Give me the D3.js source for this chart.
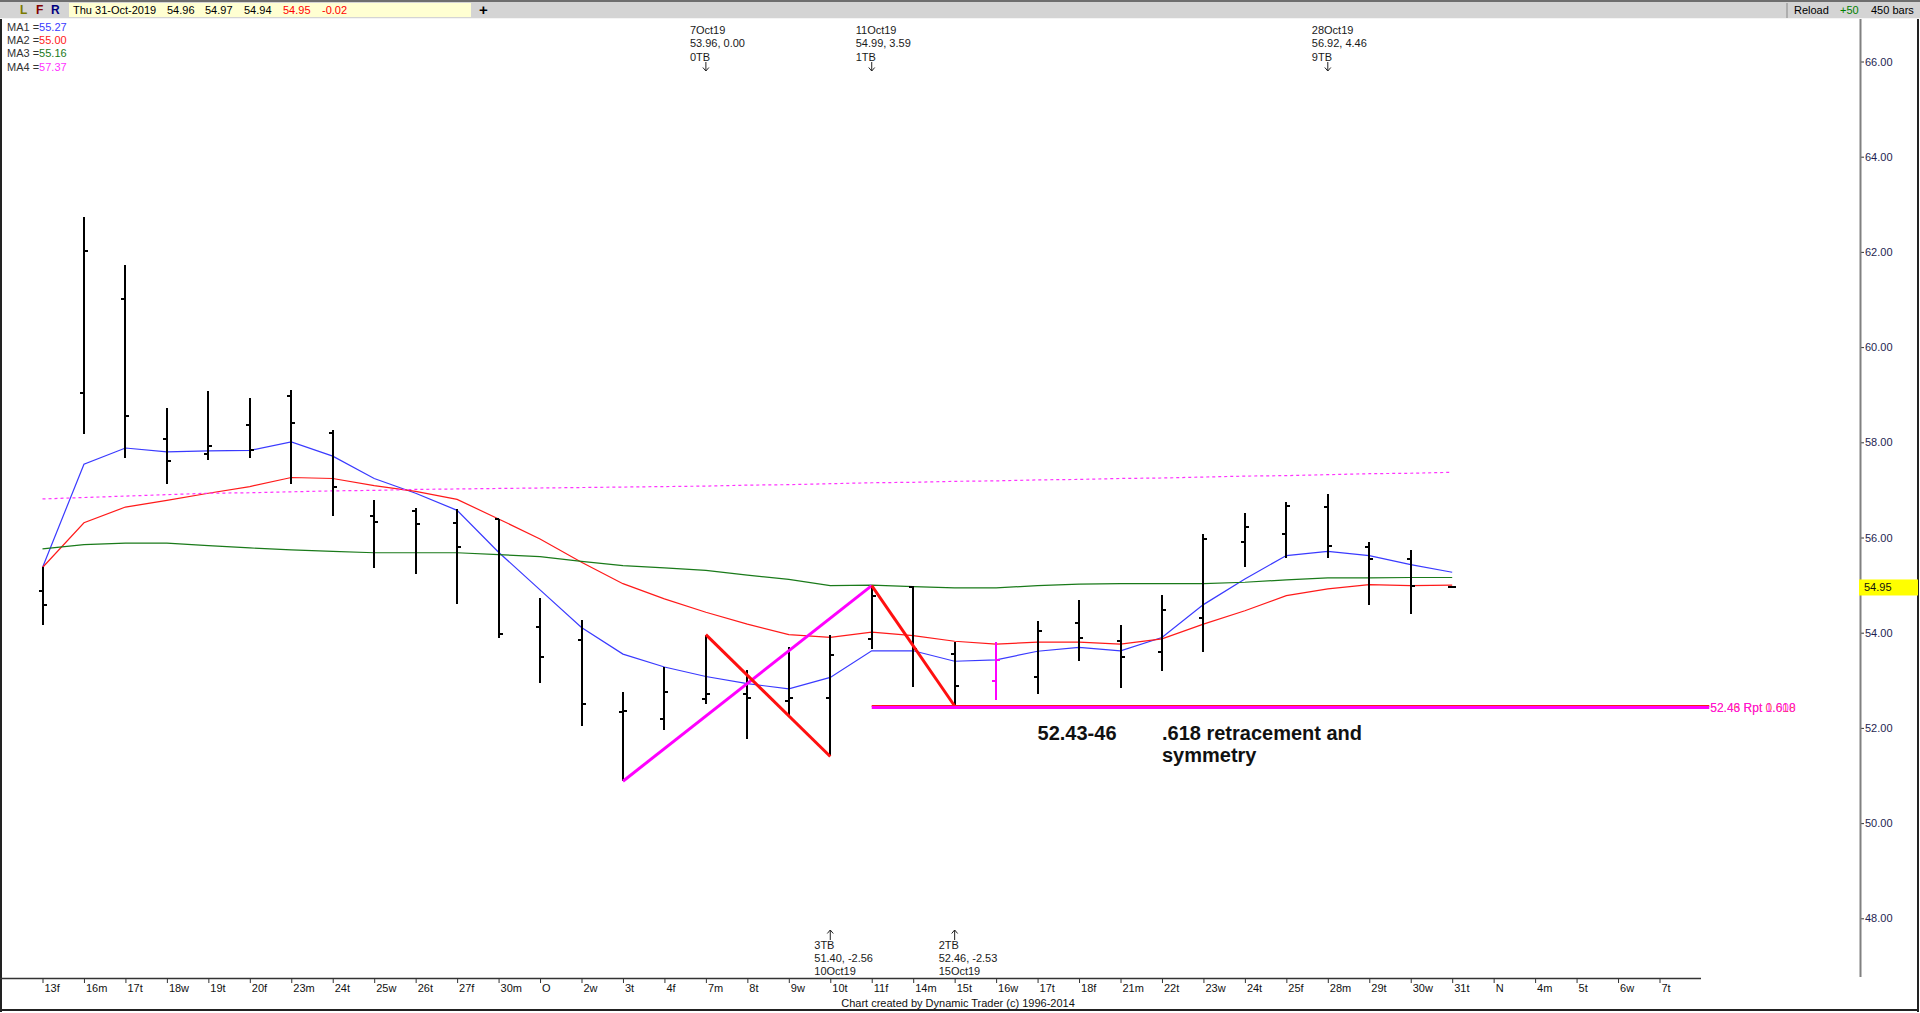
<!DOCTYPE html>
<html>
<head>
<meta charset="utf-8">
<script src="https://cdn.jsdelivr.net/npm/d3@7"></script>
<style>
  body { margin: 0; background: #fff; overflow: hidden; }
  svg { display: block; font-family: "Liberation Sans", Arial, sans-serif; }
</style>
</head>
<body>
<div id="chart"></div>
<script>
// ---- data ----
const labels = ["13f","16m","17t","18w","19t","20f","23m","24t","25w","26t","27f","30m","O","2w","3t","4f","7m","8t","9w","10t",
                "11f","14m","15t","16w","17t","18f","21m","22t","23w","24t","25f","28m","29t","30w","31t","N","4m","5t","6w","7t"]

const opens  = [54.87,59.04,61.01,58.07,57.75,58.37,58.97,58.20,56.45,56.56,56.30,56.38,54.13,53.85,52.34,52.18,52.60,52.71,52.57,52.62,
                53.87,54.95,53.55,52.99,53.07,54.20,53.83,53.59,54.31,55.91,56.08,56.64,55.80,55.54,54.96]
const highs  = [55.37,62.73,61.73,58.73,59.07,58.94,59.09,58.25,56.78,56.63,56.60,56.39,54.73,54.27,52.76,53.27,53.96,53.21,53.69,53.96,
                54.99,54.98,53.81,53.80,54.25,54.69,54.17,54.79,56.08,56.51,56.74,56.92,55.90,55.73,54.97]
const lows   = [54.16,58.18,57.68,57.12,57.62,57.67,57.12,56.46,55.35,55.24,54.61,53.88,52.94,52.04,50.88,51.96,52.50,51.76,52.27,51.40,
                53.66,52.85,52.46,52.58,52.71,53.41,52.84,53.20,53.59,55.39,55.57,55.56,54.59,54.39,54.94]
const closes = [54.58,62.02,58.56,57.61,57.92,57.83,58.41,57.07,56.32,56.28,55.80,53.98,53.50,52.51,52.36,52.75,52.71,52.62,52.63,53.54,
                54.78,53.65,52.87,53.43,54.03,53.88,53.50,54.48,55.97,56.23,56.66,55.82,55.54,54.98,54.95]

const ma1 = [55.37,57.54,57.88,57.80,57.82,57.83,58.01,57.71,57.24,56.93,56.57,55.69,54.90,54.11,53.55,53.28,53.08,52.93,52.82,53.06,
             53.62,53.62,53.40,53.43,53.61,53.69,53.62,53.90,54.59,55.13,55.62,55.71,55.62,55.43,55.27]
const ma2 = [55.37,56.31,56.64,56.78,56.93,57.07,57.26,57.24,57.09,56.97,56.80,56.39,55.97,55.48,55.03,54.71,54.43,54.18,53.96,53.90,
             54.01,53.94,53.82,53.76,53.80,53.80,53.76,53.87,54.18,54.46,54.78,54.92,55.01,54.99,55.00]
const ma3 = [55.76,55.85,55.88,55.88,55.83,55.78,55.74,55.71,55.68,55.68,55.68,55.64,55.60,55.50,55.41,55.36,55.31,55.21,55.12,54.99,
             55.00,54.97,54.94,54.94,54.99,55.02,55.03,55.03,55.03,55.06,55.11,55.15,55.15,55.16,55.16]
const ma4 = [56.81,56.84,56.87,56.90,56.93,56.94,56.96,56.98,56.99,57.01,57.02,57.03,57.04,57.05,57.06,57.07,57.08,57.10,57.11,57.13,
             57.15,57.16,57.18,57.19,57.21,57.22,57.24,57.25,57.27,57.29,57.30,57.32,57.34,57.35,57.37]

const maNames  = ["MA1", "MA2", "MA3", "MA4"]
const maLast   = ["55.27", "55.00", "55.16", "57.37"]
const maColors = ["#3a3aff", "#ff1a1a", "#1a7a1a", "#ff33ff"]

const yTicks = [48, 50, 52, 54, 56, 58, 60, 62, 64, 66]
const lastPrice = 54.95
const infoFields = ["Thu 31-Oct-2019", "54.96", "54.97", "54.94", "54.95", "-0.02"]

const topNotes = [
  { i: 16, lines: ["7Oct19", "53.96, 0.00", "0TB"] },
  { i: 20, lines: ["11Oct19", "54.99, 3.59", "1TB"] },
  { i: 31, lines: ["28Oct19", "56.92, 4.46", "9TB"] }
]
const bottomNotes = [
  { i: 19, lines: ["3TB", "51.40, -2.56", "10Oct19"] },
  { i: 22, lines: ["2TB", "52.46, -2.53", "15Oct19"] }
]

const swingUp    = [[14, 50.88], [20, 54.99]]
const swingDownA = [[16, 53.96], [19, 51.40]]
const swingDownB = [[20, 54.99], [22, 52.46]]
const levels = [
  { v: 52.46, label: "52.46 Rpt 0.618", color: "#ff1a1a" },
  { v: 52.43, label: "52.43 Rpt 1.000", color: "#ff00ff" }
]
const levelStart = 20, levelEnd = 40.2
const highlightBar = 23

// ---- dimensions ----
const width = 1920, height = 1013

const svg = d3.select("#chart").append("svg")
  .attr("width", width)
  .attr("height", height)

const x = d3.scaleLinear().domain([0, 39]).range([42.5, 1659.5])
const y = d3.scaleLinear().domain([48, 66]).range([918.3, 61.5])

// ---- top toolbar ----
svg.append("rect").attr("x", 0).attr("y", 0).attr("width", width).attr("height", 19).attr("fill", "#d4d4d4")
svg.append("rect").attr("x", 0).attr("y", 0).attr("width", width).attr("height", 2).attr("fill", "#6e6e6e")
svg.append("rect").attr("x", 0).attr("y", 18).attr("width", width).attr("height", 1).attr("fill", "#f4f4f4")
svg.append("rect").attr("x", 69).attr("y", 3).attr("width", 402).attr("height", 14).attr("fill", "#ffffd2")

const lfr = [["L", "#7a7a00", 20], ["F", "#800000", 36], ["R", "#000080", 51]]
svg.selectAll(".lfr").data(lfr).enter().append("text")
  .attr("x", d => d[2]).attr("y", 14)
  .attr("font-size", 12).attr("font-weight", "bold")
  .attr("fill", d => d[1]).text(d => d[0])

const infoX = [73, 167, 205, 244, 283, 322]
svg.selectAll(".info").data(infoFields).enter().append("text")
  .attr("x", (d, i) => infoX[i]).attr("y", 14)
  .attr("font-size", 11)
  .attr("fill", (d, i) => i >= 4 ? "#ff0000" : "#000")
  .text(d => d)

svg.append("text").attr("x", 479).attr("y", 15).attr("font-size", 15).attr("font-weight", "bold").text("+")

svg.append("line").attr("x1", 1787).attr("x2", 1787).attr("y1", 3).attr("y2", 18).attr("stroke", "#888")
svg.append("text").attr("x", 1794).attr("y", 14).attr("font-size", 11).text("Reload")
svg.append("text").attr("x", 1840).attr("y", 14).attr("font-size", 11).attr("fill", "#008000").text("+50")
svg.append("text").attr("x", 1871).attr("y", 14).attr("font-size", 11).text("450 bars")

// ---- frame ----
svg.append("rect").attr("x", 0).attr("y", 19).attr("width", 2).attr("height", 993).attr("fill", "#222")
svg.append("rect").attr("x", 1917).attr("y", 19).attr("width", 2).attr("height", 993).attr("fill", "#222")
svg.append("rect").attr("x", 0).attr("y", 1009).attr("width", 1919).attr("height", 2).attr("fill", "#222")

// ---- legend ----
const legend = svg.selectAll(".legend").data(maNames).enter().append("text")
  .attr("x", 7).attr("y", (d, i) => 30.5 + i * 13.4)
  .attr("font-size", 11)
legend.append("tspan").attr("fill", "#333").text(d => d + " =")
legend.append("tspan").attr("fill", (d, i) => maColors[i]).text((d, i) => maLast[i])

// ---- axes ----
const yAxis = d3.axisRight(y).tickValues(yTicks).tickSize(4).tickPadding(1).tickFormat(d3.format(".2f"))
const gy = svg.append("g").attr("transform", "translate(1860,0)").call(yAxis)
gy.select(".domain").remove()
gy.selectAll("line").attr("stroke", "#333")
gy.selectAll("text").attr("font-size", 11).attr("fill", "#1e1e50").attr("font-family", "Liberation Sans, Arial, sans-serif")
svg.append("line").attr("x1", 1860.5).attr("x2", 1860.5).attr("y1", 19).attr("y2", 977)
  .attr("stroke", "#808080").attr("stroke-width", 2)

const xAxis = d3.axisBottom(x).tickValues(d3.range(labels.length)).tickSize(5).tickFormat(i => labels[i])
const gx = svg.append("g").attr("transform", "translate(0,978)").call(xAxis)
gx.select(".domain").remove()
gx.selectAll("line").attr("stroke", "#333")
gx.selectAll("text").attr("text-anchor", "start").attr("dx", 1.5).attr("dy", "0.55em")
  .attr("font-size", 11).attr("fill", "#111").attr("font-family", "Liberation Sans, Arial, sans-serif")
svg.append("line").attr("x1", 0).attr("x2", 1701).attr("y1", 978.5).attr("y2", 978.5)
  .attr("stroke", "#333").attr("stroke-width", 1.5)

svg.append("text").attr("x", 958).attr("y", 1007).attr("text-anchor", "middle").attr("font-size", 11)
  .attr("fill", "#111").text("Chart created by Dynamic Trader  (c) 1996-2014")

// ---- moving averages ----
const lineGen = d3.line().x((d, i) => x(i)).y(d => y(d))
const maSeries = [ma1, ma2, ma3, ma4]
maSeries.forEach((s, k) => {
  svg.append("path")
    .attr("d", lineGen(s))
    .attr("fill", "none")
    .attr("stroke", maColors[k])
    .attr("stroke-width", 1.2)
    .attr("stroke-dasharray", k === 3 ? "3,3" : null)
})

// ---- price bars ----
const bars = svg.append("g").attr("shape-rendering", "crispEdges")
opens.forEach((o, i) => {
  const cx = Math.round(x(i))
  const col = i === highlightBar ? "#ff00ff" : "#000"
  bars.append("line").attr("x1", cx).attr("x2", cx)
    .attr("y1", y(highs[i])).attr("y2", y(lows[i])).attr("stroke", col).attr("stroke-width", 2)
  bars.append("line").attr("x1", cx - 4).attr("x2", cx)
    .attr("y1", y(o)).attr("y2", y(o)).attr("stroke", col).attr("stroke-width", 2)
  bars.append("line").attr("x1", cx).attr("x2", cx + 4)
    .attr("y1", y(closes[i])).attr("y2", y(closes[i])).attr("stroke", col).attr("stroke-width", 2)
})

// ---- swing annotations ----
const swingLine = d3.line().x(d => x(d[0])).y(d => y(d[1]))
svg.append("path").attr("d", swingLine(swingUp)).attr("fill", "none").attr("stroke", "#ff00ff").attr("stroke-width", 3)
;[swingDownA, swingDownB].forEach(s => {
  svg.append("path").attr("d", swingLine(s)).attr("fill", "none").attr("stroke", "#ff1010").attr("stroke-width", 3)
})

levels.forEach((l, k) => {
  svg.append("line").attr("x1", x(levelStart)).attr("x2", x(levelEnd))
    .attr("y1", y(l.v)).attr("y2", y(l.v))
    .attr("stroke", l.color).attr("stroke-width", k === 0 ? 2 : 3)
})
levels.forEach(l => {
  svg.append("text").attr("x", x(levelEnd) + 1).attr("y", y(52.43) + 4.5)
    .attr("font-size", 12).attr("fill", l.color).attr("fill-opacity", 0.8).text(l.label)
})

// ---- text notes ----
const notes = svg.append("g").attr("font-size", 11).attr("fill", "#1a1a1a")
topNotes.forEach(n => {
  const bx = x(n.i)
  n.lines.forEach((t, j) => {
    notes.append("text").attr("x", bx - 16).attr("y", 34 + j * 13.3).text(t)
  })
  notes.append("path").attr("d", `M${bx},62V71M${bx - 3},67.5L${bx},71L${bx + 3},67.5`)
    .attr("fill", "none").attr("stroke", "#222").attr("stroke-width", 1)
})
bottomNotes.forEach(n => {
  const bx = x(n.i)
  notes.append("path").attr("d", `M${bx},930V940M${bx - 3},933.5L${bx},930L${bx + 3},933.5`)
    .attr("fill", "none").attr("stroke", "#222").attr("stroke-width", 1)
  n.lines.forEach((t, j) => {
    notes.append("text").attr("x", bx - 16).attr("y", 949 + j * 12.8).text(t)
  })
})

// big commentary text
svg.append("text").attr("x", x(24)).attr("y", 739.5)
  .attr("font-size", 20).attr("font-weight", "bold").attr("fill", "#111").text("52.43-46")
const comment = svg.append("text").attr("x", x(27)).attr("y", 739.5)
  .attr("font-size", 20).attr("font-weight", "bold").attr("fill", "#111")
comment.append("tspan").attr("x", x(27)).text(".618 retracement and")
comment.append("tspan").attr("x", x(27)).attr("dy", 22).text("symmetry")

// ---- last price marker ----
svg.append("rect").attr("x", 1859).attr("y", y(lastPrice) - 8).attr("width", 59).attr("height", 16).attr("fill", "#ffff00")
svg.append("text").attr("x", 1864).attr("y", y(lastPrice) + 4).attr("font-size", 11).attr("fill", "#111").text(lastPrice.toFixed(2))
</script>
</body>
</html>
